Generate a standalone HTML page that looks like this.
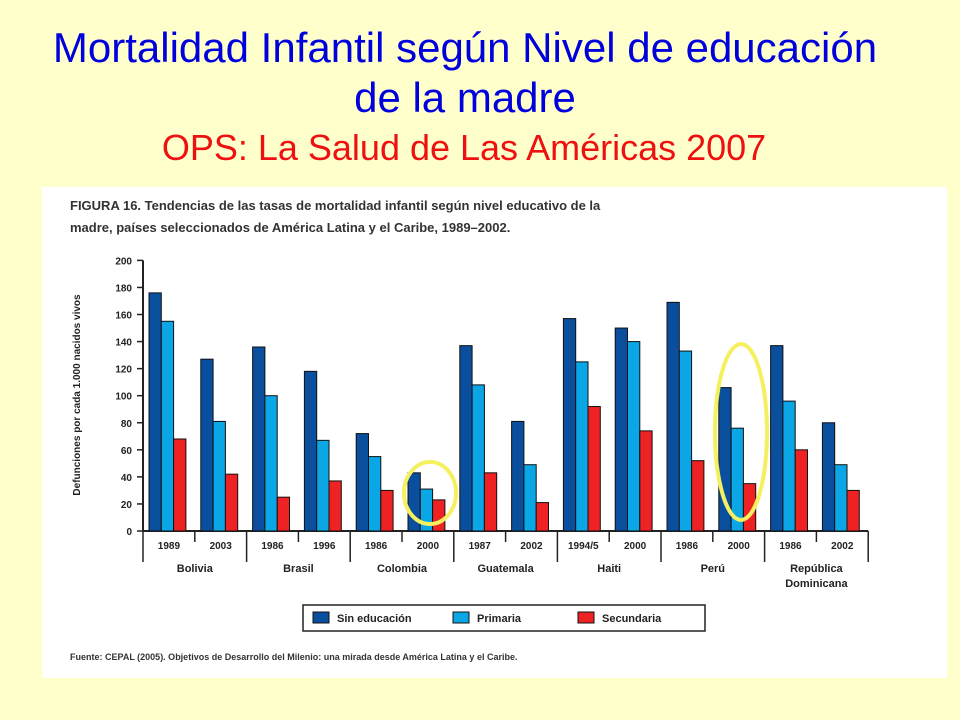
<!DOCTYPE html>
<html><head><meta charset="utf-8"><style>
body{margin:0;width:960px;height:720px;background:#FFFFCC;overflow:hidden;font-family:"Liberation Sans",sans-serif;position:relative}
.t{position:absolute;left:0;width:960px;text-align:center;font-size:42px;color:#0000DD;white-space:nowrap;line-height:1.15}
</style></head><body>
<div class="t" style="top:24px;left:-15px">Mortalidad Infantil según Nivel de educación</div>
<div class="t" style="top:74px;left:-15px">de la madre</div>
<div class="t" style="top:127px;font-size:36px;color:#EE1111;left:-16px">OPS: La Salud de Las Américas 2007</div>
<svg id="c" style="position:absolute;left:0;top:0" width="960" height="720" font-family="Liberation Sans, sans-serif"></svg>
<script>
const years=["1989","2003","1986","1996","1986","2000","1987","2002","1994/5","2000","1986","2000","1986","2002"];
const countries=[["Bolivia"],["Brasil"],["Colombia"],["Guatemala"],["Haiti"],["Perú"],["República","Dominicana"]];
const sinEdu=[176,127,136,118,72,43,137,81,157,150,169,106,137,80];
const primaria=[155,81,100,67,55,31,108,49,125,140,133,76,96,49];
const secundaria=[68,42,25,37,30,23,43,21,92,74,52,35,60,30];
const ticks=[0,20,40,60,80,100,120,140,160,180,200];
const svg=document.getElementById('c');const NS='http://www.w3.org/2000/svg';
function mk(t,a,p){const e=document.createElementNS(NS,t);for(const k in a)e.setAttribute(k,a[k]);(p||svg).appendChild(e);return e;}
const x0=143,slot=51.8,y0=531,ppu=1.353;
const Y=v=>y0-v*ppu;const X=i=>x0+i*slot;
let e=mk('rect',{x:42,y:187,width:905,height:491,fill:'#fff'});


e=mk('text',{x:70,y:210,'font-size':13,'font-weight':'bold',fill:'#333'});e.textContent='FIGURA 16. Tendencias de las tasas de mortalidad infantil según nivel educativo de la';


e=mk('text',{x:70,y:232,'font-size':13,'font-weight':'bold',fill:'#333'});e.textContent='madre, países seleccionados de América Latina y el Caribe, 1989–2002.';


e=mk('text',{transform:'translate(80,395) rotate(-90)','text-anchor':'middle','font-size':10,'font-weight':'bold',fill:'#222'});e.textContent='Defunciones por cada 1.000 nacidos vivos';


ticks.forEach(t=>{
 e=mk('line',{x1:x0-6,x2:x0,y1:Y(t),y2:Y(t),stroke:'#222','stroke-width':1.5});
 
 
 e=mk('text',{x:x0-11,y:Y(t)+4,'text-anchor':'end','font-size':10,'font-weight':'bold',fill:'#222'});e.textContent=t;
 
 
});
e=mk('line',{x1:x0,x2:x0,y1:Y(200),y2:y0,stroke:'#222','stroke-width':2});


e=mk('line',{x1:x0,x2:X(14),y1:y0,y2:y0,stroke:'#222','stroke-width':2});


const series=[[sinEdu,'#0A4F9E'],[primaria,'#0BA6E6'],[secundaria,'#EE2222']];
years.forEach((yr,i)=>{
 series.forEach((s,j)=>{
  const v=s[0][i];
  e=mk('rect',{x:X(i)+6+j*12.3,y:Y(v),width:12.3,height:v*ppu,fill:s[1],stroke:'#111','stroke-width':1});
  
  
 });
 e=mk('text',{x:X(i)+slot/2,y:549,'text-anchor':'middle','font-size':10,'font-weight':'bold',fill:'#222'});e.textContent=yr;
 
 
});
for(let i=0;i<=14;i++){
 e=mk('line',{x1:X(i),x2:X(i),y1:y0,y2:i%2?542:562,stroke:'#222','stroke-width':1.5});
 
 
}
countries.forEach((c,k)=>{
 c.forEach((ln,m)=>{
  e=mk('text',{x:X(2*k)+slot,y:572+m*15,'text-anchor':'middle','font-size':11,'font-weight':'bold',fill:'#222'});e.textContent=ln;
  
  
 });
});
e=mk('ellipse',{cx:430,cy:493,rx:26,ry:31,fill:'none',stroke:'#F5F060','stroke-width':4});


e=mk('ellipse',{cx:741,cy:432,rx:26,ry:88,fill:'none',stroke:'#F5F060','stroke-width':4});


e=mk('rect',{x:303,y:605,width:402,height:26,fill:'#fff',stroke:'#222','stroke-width':1.5});


[['Sin educación',313],['Primaria',453],['Secundaria',578]].forEach((l,j)=>{
 e=mk('rect',{x:l[1],y:612,width:16,height:11,fill:series[j][1],stroke:'#111'});
 
 
 e=mk('text',{x:l[1]+24,y:622,'font-size':11,'font-weight':'bold',fill:'#222'});e.textContent=l[0];
 
 
});
e=mk('text',{x:70,y:660,'font-size':9,'font-weight':'bold',fill:'#333'});e.textContent='Fuente: CEPAL (2005). Objetivos de Desarrollo del Milenio: una mirada desde América Latina y el Caribe.';


</script>
</body></html>
